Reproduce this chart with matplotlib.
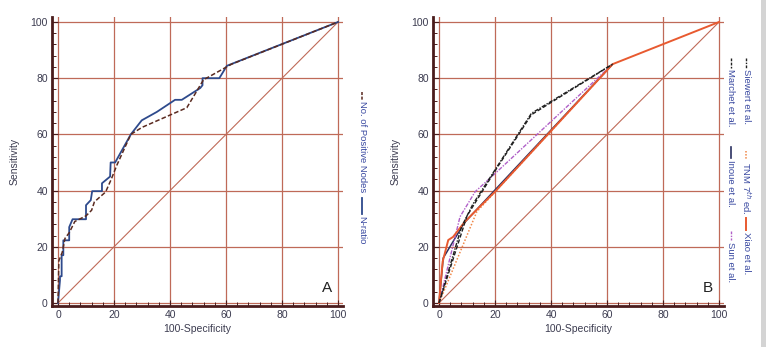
import numpy as np
import matplotlib
matplotlib.use("Agg")
import matplotlib.pyplot as plt
from matplotlib.ticker import MultipleLocator

plt.rcParams['font.family'] = ['Liberation Sans', 'DejaVu Sans']

# ---- panel A data (100-specificity, sensitivity) ----
nratio_x = [0, 0.7, 0.7, 1.3, 1.3, 1.9, 1.9, 4.0, 4.0, 5.2, 10.0, 10.0, 11.7, 12.2, 15.7, 15.7,
            18.6, 18.8, 20.4, 26.0, 29.9, 35.3, 41.8, 44.2, 50.8, 51.6, 51.6, 57.6, 60.3, 61.3, 100]
nratio_y = [0, 8, 9.5, 9.5, 17, 17, 22.3, 22.3, 27, 29.8, 29.8, 34.8, 36.6, 39.8, 39.8, 42.6,
            45, 50, 50, 60, 65, 68, 72.3, 72.3, 76.5, 77.5, 80, 80, 84.4, 84.8, 100]

nodes_x = [0, 0.3, 1.5, 2.5, 4, 6, 10, 12, 13, 17, 19, 21, 26, 30, 38, 46, 52, 53, 62, 100]
nodes_y = [0, 15, 18, 23, 25, 29, 31, 33, 36, 39.5, 44, 49, 60, 62.5, 66, 69.5, 79.5, 80, 85, 100]

# ---- panel B data ----
siewert_x = [0, 8, 12, 33, 62]
siewert_y = [0, 27, 35, 67.5, 85]
marchet_x = [0, 10, 20, 33, 62]
marchet_y = [0, 31, 47, 67, 85]
tnm_x = [0, 13.5, 62]
tnm_y = [0, 32.5, 85]
inoue_x = [0, 1.5, 9, 62]
inoue_y = [0, 16, 28.5, 85]
xiao_x = [0, 1.3, 3.3, 5, 9.3, 14, 20, 62, 100]
xiao_y = [0, 14.7, 22.4, 23.5, 29, 33.7, 39.6, 85, 100]
sun_x = [0, 7.5, 12.9, 19.4, 62]
sun_y = [0, 30.7, 39.6, 45.5, 85]

ticks = [0, 20, 40, 60, 80, 100]

grid_c = '#bf6a58'
spine_c = '#4a1c1c'
text_c = '#3c3c50'
leg_c = '#3848a0'

fig = plt.figure(figsize=(7.66, 3.47), dpi=100)
axA = fig.add_axes([0.0679, 0.1182, 0.380, 0.833])
axB = fig.add_axes([0.5653, 0.1182, 0.380, 0.833])


def style(ax, letter):
    ax.set_xlim(-2.14, 101.8)
    ax.set_ylim(-1.07, 101.8)
    ax.set_xticks(ticks)
    ax.set_yticks(ticks)
    ax.xaxis.set_minor_locator(MultipleLocator(4))
    ax.yaxis.set_minor_locator(MultipleLocator(4))
    for t in ticks:
        ax.axhline(t, color=grid_c, lw=0.9, zorder=1)
        ax.axvline(t, color=grid_c, lw=0.9, zorder=1)
    ax.plot([0, 100], [0, 100], color=grid_c, lw=0.8, zorder=2)
    for s in ['top', 'right']:
        ax.spines[s].set_visible(False)
    for s in ['left', 'bottom']:
        ax.spines[s].set_color(spine_c)
        ax.spines[s].set_linewidth(2.0)
    ax.tick_params(which='major', direction='in', length=4, width=0.8, color=spine_c,
                   labelsize=7.5, labelcolor=text_c, pad=3)
    ax.tick_params(which='minor', direction='in', length=3, width=0.7, color=spine_c)
    ax.set_xlabel('100-Specificity', fontsize=7.5, color=text_c, labelpad=3)
    ax.set_ylabel('Sensitivity', fontsize=7.5, color=text_c, labelpad=8)
    ax.text(96, 5.3, letter, fontsize=11, color='#222222', ha='center', va='center')


style(axA, 'A')
style(axB, 'B')

# panel A curves
axA.plot(nratio_x, nratio_y, color='#2e4a8c', lw=1.3, zorder=4)
axA.plot(nodes_x, nodes_y, color='#5a2a20', lw=1.1, ls=(0, (3, 1.5)), zorder=5)

# panel B curves
axB.plot(inoue_x, inoue_y, color='#2a3060', lw=1.1, zorder=4)
axB.plot(tnm_x, tnm_y, color='#f08848', lw=1.1, ls=(0, (1, 1.2)), zorder=4)
axB.plot(sun_x, sun_y, color='#b060c8', lw=1.0, ls=(0, (3, 1, 1, 1)), zorder=4)
axB.plot(xiao_x, xiao_y, color='#e85a30', lw=1.4, zorder=5)
axB.plot(marchet_x, marchet_y, color='#202020', lw=1.0, ls=(0, (3, 1.5)), zorder=6)
axB.plot(siewert_x, siewert_y, color='#202020', lw=1.0, ls=(0, (3, 1, 1, 1)), zorder=6)


# rotated legends (figure pixel coordinates converted to fractions)
W, H = 766.0, 347.0


def vline(x, y0, y1, **kw):
    fig.add_artist(plt.Line2D([x / W, x / W], [1 - y0 / H, 1 - y1 / H], **kw))


def vtext(x, y, s):
    fig.text(x / W, 1 - y / H, s, rotation=-90, ha='center', va='top',
             fontsize=6.8, color=leg_c)


# panel A legend
vline(362, 92, 100, color='#5a2a20', lw=1.1, ls=(0, (2, 1)))
vtext(362, 101, 'No. of Positive Nodes')
vline(362, 198, 214, color='#2e4a8c', lw=1.3)
vtext(362, 216, 'N-ratio')

# panel B legend, right column
vline(746, 58, 68, color='#202020', lw=1.0, ls=(0, (2, 1, 1, 1)))
vtext(746, 69, 'Siewert et al.')
vline(746, 151, 160, color='#f08848', lw=1.1, ls=(0, (1, 1)))
vtext(746, 162, 'TNM 7$^{th}$ ed.')
vline(746, 218, 230, color='#e85a30', lw=1.4)
vtext(746, 232, 'Xiao et al.')

# panel B legend, left column
vline(731, 58, 68, color='#202020', lw=1.0, ls=(0, (2, 1)))
vtext(731, 69, 'Marchet et al.')
vline(731, 147, 158, color='#2a3060', lw=1.2)
vtext(731, 160, 'Inoue et al.')
vline(731, 231, 240, color='#b060c8', lw=1.0, ls=(0, (2, 1, 1, 1)))
vtext(731, 242, 'Sun et al.')

# light grey frame edge on the right
fig.add_artist(plt.Rectangle((761 / W, 0), 5 / W, 1, transform=fig.transFigure,
                             color='#d4d4d4', lw=0))

fig.savefig('out.png', dpi=100)
